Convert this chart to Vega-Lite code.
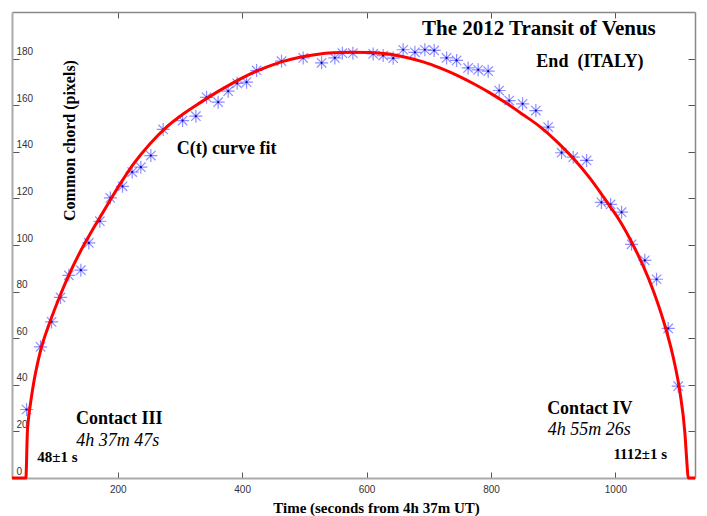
{
  "$schema": "https://vega.github.io/schema/vega-lite/v6.json",
  "width": 683,
  "height": 466,
  "autosize": "none",
  "padding": {"left": 12, "top": 12, "right": 12, "bottom": 38},
  "background": "white",
  "config": {"view": {"stroke": null}},
  "datasets": {
    "obs": [
      {"t":53.4,"c":29.4},{"t":75.9,"c":56.3},{"t":93.6,"c":67.0},{"t":108.0,"c":77.5},{"t":121.4,"c":87.0},
      {"t":140.7,"c":89.2},{"t":153.5,"c":100.9},{"t":171.2,"c":110.2},{"t":188.1,"c":120.2},{"t":207.7,"c":125.2},
      {"t":223.2,"c":131.3},{"t":237.1,"c":133.4},{"t":253.2,"c":138.4},{"t":273.0,"c":149.6},{"t":304.2,"c":153.4},
      {"t":325.6,"c":155.3},{"t":342.8,"c":163.4},{"t":361.4,"c":161.3},{"t":377.5,"c":166.0},{"t":392.0,"c":169.4},
      {"t":407.1,"c":169.9},{"t":423.2,"c":174.9},{"t":463.3,"c":178.9},{"t":498.1,"c":180.3},{"t":527.7,"c":178.2},
      {"t":549.0,"c":180.3},{"t":561.1,"c":182.3},{"t":578.0,"c":182.3},{"t":610.6,"c":182.0},{"t":626.7,"c":181.3},
      {"t":642.8,"c":180.2},{"t":658.8,"c":183.8},{"t":677.7,"c":182.7},{"t":693.7,"c":183.8},{"t":708.7,"c":183.5},
      {"t":728.6,"c":180.3},{"t":744.7,"c":179.2},{"t":763.3,"c":176.0},{"t":779.4,"c":175.2},{"t":795.5,"c":174.6},
      {"t":813.2,"c":166.3},{"t":829.3,"c":162.0},{"t":850.8,"c":160.6},{"t":872.2,"c":157.7},{"t":891.9,"c":150.6},
      {"t":913.5,"c":139.6},{"t":932.2,"c":137.7},{"t":953.7,"c":136.3},{"t":977.5,"c":118.3},{"t":992.3,"c":117.4},
      {"t":1010.0,"c":114.1},{"t":1026.0,"c":100.3},{"t":1047.4,"c":93.4},{"t":1066.2,"c":85.3},{"t":1084.9,"c":64.2},
      {"t":1101.0,"c":39.4}
    ],
    "fit": [
      {"t":30,"c":0},{"t":52.3,"c":0},{"t":54.7,"c":19.7},{"t":56.5,"c":25.5},{"t":60,"c":32.5},{"t":64.0,"c":39.5},{"t":74.8,"c":53.5},
      {"t":90.8,"c":66.8},{"t":106.9,"c":78.0},{"t":123.0,"c":88.0},{"t":139.1,"c":96.8},{"t":155.1,"c":104.5},
      {"t":171.2,"c":111.8},{"t":187.3,"c":119.0},{"t":203.4,"c":126.0},{"t":224.8,"c":134.6},{"t":251.6,"c":143.4},
      {"t":278.5,"c":150.6},{"t":305.1,"c":156.2},{"t":332.0,"c":161.0},{"t":358.8,"c":165.5},{"t":385.5,"c":169.6},
      {"t":412.4,"c":173.3},{"t":439.2,"c":176.3},{"t":465.9,"c":178.8},{"t":492.8,"c":180.6},{"t":519.6,"c":181.8},
      {"t":546.3,"c":182.5},{"t":573.2,"c":182.7},{"t":605.3,"c":182.6},{"t":632.2,"c":182.1},{"t":664.3,"c":180.5},
      {"t":691.0,"c":178.6},{"t":717.8,"c":176.0},{"t":744.7,"c":172.9},{"t":771.4,"c":169.3},{"t":798.2,"c":165.3},
      {"t":825.1,"c":160.8},{"t":851.8,"c":155.9},{"t":878.6,"c":150.8},{"t":905.5,"c":144.5},{"t":932.2,"c":137.2},
      {"t":959.0,"c":128.7},{"t":991.2,"c":116.6},{"t":1007.2,"c":110.3},{"t":1026.0,"c":101.3},{"t":1044.7,"c":91.0},
      {"t":1060.8,"c":80.5},{"t":1076.9,"c":67.8},{"t":1093.0,"c":51.8},{"t":1103.7,"c":37.0},{"t":1111.7,"c":19.5},
      {"t":1115.4,"c":5.0},{"t":1117.0,"c":0},{"t":1128,"c":0}
    ],
    "notes": [
      {"t":877,"c":192.5,"text":"The 2012 Transit of Venus","kind":"title"},
      {"t":959,"c":178.6,"text":"End\u00a0\u00a0(ITALY)","kind":"subtitle"},
      {"t":375,"c":141.4,"text":"C(t) curve fit","kind":"label"},
      {"t":202.6,"c":25.3,"text":"Contact III","kind":"label"},
      {"t":959,"c":29.6,"text":"Contact IV","kind":"label"},
      {"t":200,"c":15.9,"text":"4h 37m 47s","kind":"time"},
      {"t":958,"c":20.6,"text":"4h 55m 26s","kind":"time"},
      {"t":103,"c":8.9,"text":"48±1 s","kind":"seconds"},
      {"t":1040,"c":10.3,"text":"1112±1 s","kind":"seconds"}
    ]
  },
  "resolve": {"axis": {"x": "independent", "y": "independent"}},
  "layer": [
    {
      "data": {"name": "obs"},
      "mark": {"type": "point", "shape": "M-1,0L1,0M0,-1L0,1M-0.72,-0.72L0.72,0.72M-0.72,0.72L0.72,-0.72", "filled": false, "stroke": "#2a2aff", "strokeWidth": 1.2, "strokeOpacity": 0.75, "size": 170},
      "encoding": {
        "x": {"field": "t", "type": "quantitative", "scale": {"domain": [30, 1128], "nice": false, "zero": false},
          "axis": {"orient": "bottom", "values": [200, 400, 600, 800, 1000], "format": "d", "grid": false, "tickSize": -6, "tickColor": "#555", "tickWidth": 1,
            "labelPadding": 17, "labelBaseline": "middle", "labelFont": "Liberation Sans", "labelFontSize": 10, "labelColor": "#333", "labelFlush": false,
            "domainColor": "#aaa", "domainWidth": 2,
            "title": "Time (seconds from 4h 37m UT)", "titleFont": "Liberation Serif", "titleFontSize": 15, "titleFontWeight": "bold", "titleColor": "#000",
            "titleX": 364, "titleY": 29, "titleAlign": "center", "titleBaseline": "middle"}},
        "y": {"field": "c", "type": "quantitative", "scale": {"domain": [0, 200], "nice": false},
          "axis": {"orient": "left", "values": [0, 20, 40, 60, 80, 100, 120, 140, 160, 180], "grid": false, "tickSize": -7, "tickColor": "#555", "tickWidth": 1,
            "labelPadding": 3, "labelAlign": "left", "labelBaseline": "alphabetic", "labelOffset": -4, "labelFont": "Liberation Sans", "labelFontSize": 10, "labelColor": "#333", "labelFlush": false,
            "domainColor": "#aaa", "domainWidth": 2,
            "title": "Common chord (pixels)", "titleFont": "Liberation Serif", "titleFontSize": 16, "titleFontWeight": "bold", "titleColor": "#000",
            "titleX": 57, "titleY": 128, "titleAngle": 270, "titleAlign": "center", "titleBaseline": "middle"}}
      }
    },
    {
      "data": {"name": "obs"},
      "mark": {"type": "point", "shape": "circle", "filled": true, "color": "#0000b0", "size": 5, "opacity": 1},
      "encoding": {
        "x": {"field": "t", "type": "quantitative", "axis": null},
        "y": {"field": "c", "type": "quantitative", "axis": null}
      }
    },
    {
      "data": {"name": "fit"},
      "mark": {"type": "line", "color": "#ff0000", "strokeWidth": 3, "interpolate": "monotone"},
      "encoding": {
        "x": {"field": "t", "type": "quantitative",
          "axis": {"orient": "top", "values": [200, 400, 600, 800, 1000], "grid": false, "labels": false, "title": null, "tickSize": -6, "tickColor": "#555", "domainColor": "#888", "domainWidth": 1.5}},
        "y": {"field": "c", "type": "quantitative",
          "axis": {"orient": "right", "values": [0, 20, 40, 60, 80, 100, 120, 140, 160, 180], "grid": false, "labels": false, "title": null, "tickSize": -7, "tickColor": "#555", "domainColor": "#888", "domainWidth": 1.5}}
      }
    },
    {
      "data": {"name": "notes"},
      "transform": [{"filter": "datum.kind === 'title'"}],
      "mark": {"type": "text", "font": "Liberation Serif", "fontWeight": "bold", "fontSize": 21, "color": "#000", "align": "center", "baseline": "middle"},
      "encoding": {"x": {"field": "t", "type": "quantitative", "axis": null}, "y": {"field": "c", "type": "quantitative", "axis": null}, "text": {"field": "text"}}
    },
    {
      "data": {"name": "notes"},
      "transform": [{"filter": "datum.kind === 'subtitle' || datum.kind === 'label'"}],
      "mark": {"type": "text", "font": "Liberation Serif", "fontWeight": "bold", "fontSize": 18, "color": "#000", "align": "center", "baseline": "middle"},
      "encoding": {"x": {"field": "t", "type": "quantitative", "axis": null}, "y": {"field": "c", "type": "quantitative", "axis": null}, "text": {"field": "text"}}
    },
    {
      "data": {"name": "notes"},
      "transform": [{"filter": "datum.kind === 'time'"}],
      "mark": {"type": "text", "font": "Liberation Serif", "fontStyle": "italic", "fontSize": 18, "color": "#000", "align": "center", "baseline": "middle"},
      "encoding": {"x": {"field": "t", "type": "quantitative", "axis": null}, "y": {"field": "c", "type": "quantitative", "axis": null}, "text": {"field": "text"}}
    },
    {
      "data": {"name": "notes"},
      "transform": [{"filter": "datum.kind === 'seconds'"}],
      "mark": {"type": "text", "font": "Liberation Serif", "fontWeight": "bold", "fontSize": 15, "color": "#000", "align": "center", "baseline": "middle"},
      "encoding": {"x": {"field": "t", "type": "quantitative", "axis": null}, "y": {"field": "c", "type": "quantitative", "axis": null}, "text": {"field": "text"}}
    }
  ]
}
